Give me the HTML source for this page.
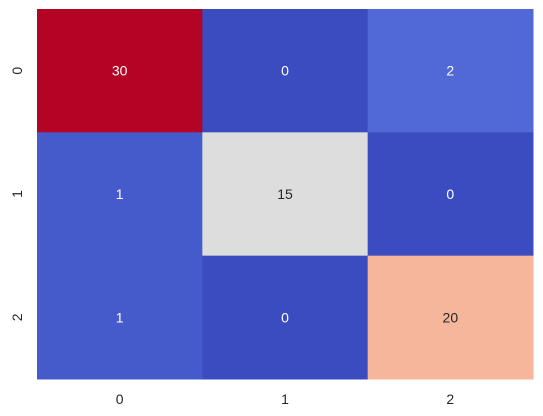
<!DOCTYPE html>
<html><head><meta charset="utf-8"><style>
html,body{margin:0;padding:0;background:#fff;}
svg{display:block;font-family:"Liberation Sans",sans-serif;}
</style></head><body>
<svg id="chart" width="543" height="416"></svg>
<script>
const rowLabels = ["0","1","2"];
const colLabels = ["0","1","2"];
const values = [[30,0,2],[1,15,0],[1,0,20]];
const L=37,R=533,T=9,B=379;
const svg=document.getElementById('chart');
const NS='http://www.w3.org/2000/svg';
const cw=(R-L)/colLabels.length, ch=(B-T)/rowLabels.length;
const vmin=0,vmax=30;
// coolwarm stops
const stops=[[0,[59,76,192]],[0.125,[98,130,234]],[0.25,[141,176,254]],[0.375,[184,208,249]],[0.5,[221,221,221]],[0.625,[245,196,173]],[0.75,[244,154,123]],[0.875,[222,96,77]],[1,[180,4,38]]];
function color(v){const t=(v-vmin)/(vmax-vmin);for(let i=1;i<stops.length;i++){if(t<=stops[i][0]){const a=stops[i-1],b=stops[i];const f=(t-a[0])/(b[0]-a[0]);const c=a[1].map((x,k)=>Math.round(x+(b[1][k]-x)*f));return {rgb:`rgb(${c})`,lum:0.299*c[0]+0.587*c[1]+0.114*c[2]};}}return {rgb:'rgb(180,4,38)',lum:60};}
function el(tag,attrs){const e=document.createElementNS(NS,tag);for(const k in attrs)e.setAttribute(k,attrs[k]);svg.appendChild(e);return e;}
values.forEach((row,i)=>row.forEach((v,j)=>{
  const c=color(v);
  const r=el('rect',{x:L+j*cw,y:T+i*ch,width:cw+0.5,height:ch+0.5,fill:c.rgb});
  
  
  const t=el('text',{x:L+(j+0.5)*cw,y:T+(i+0.5)*ch+5,'text-anchor':'middle','font-size':14,fill:c.lum>150?'#262626':'#ffffff'});
  t.textContent=v;
  
  
}));
colLabels.forEach((lab,j)=>{
  const t=el('text',{x:L+(j+0.5)*cw,y:B+25,'text-anchor':'middle','font-size':14,fill:'#262626'});
  t.textContent=lab;
  
  
});
rowLabels.forEach((lab,i)=>{
  const y=T+(i+0.5)*ch, x=22;
  const t=el('text',{x:x,y:y,'text-anchor':'middle','font-size':14,fill:'#262626',transform:`rotate(-90 ${x} ${y})`});
  t.textContent=lab;
  
  
});
</script>
</body></html>
